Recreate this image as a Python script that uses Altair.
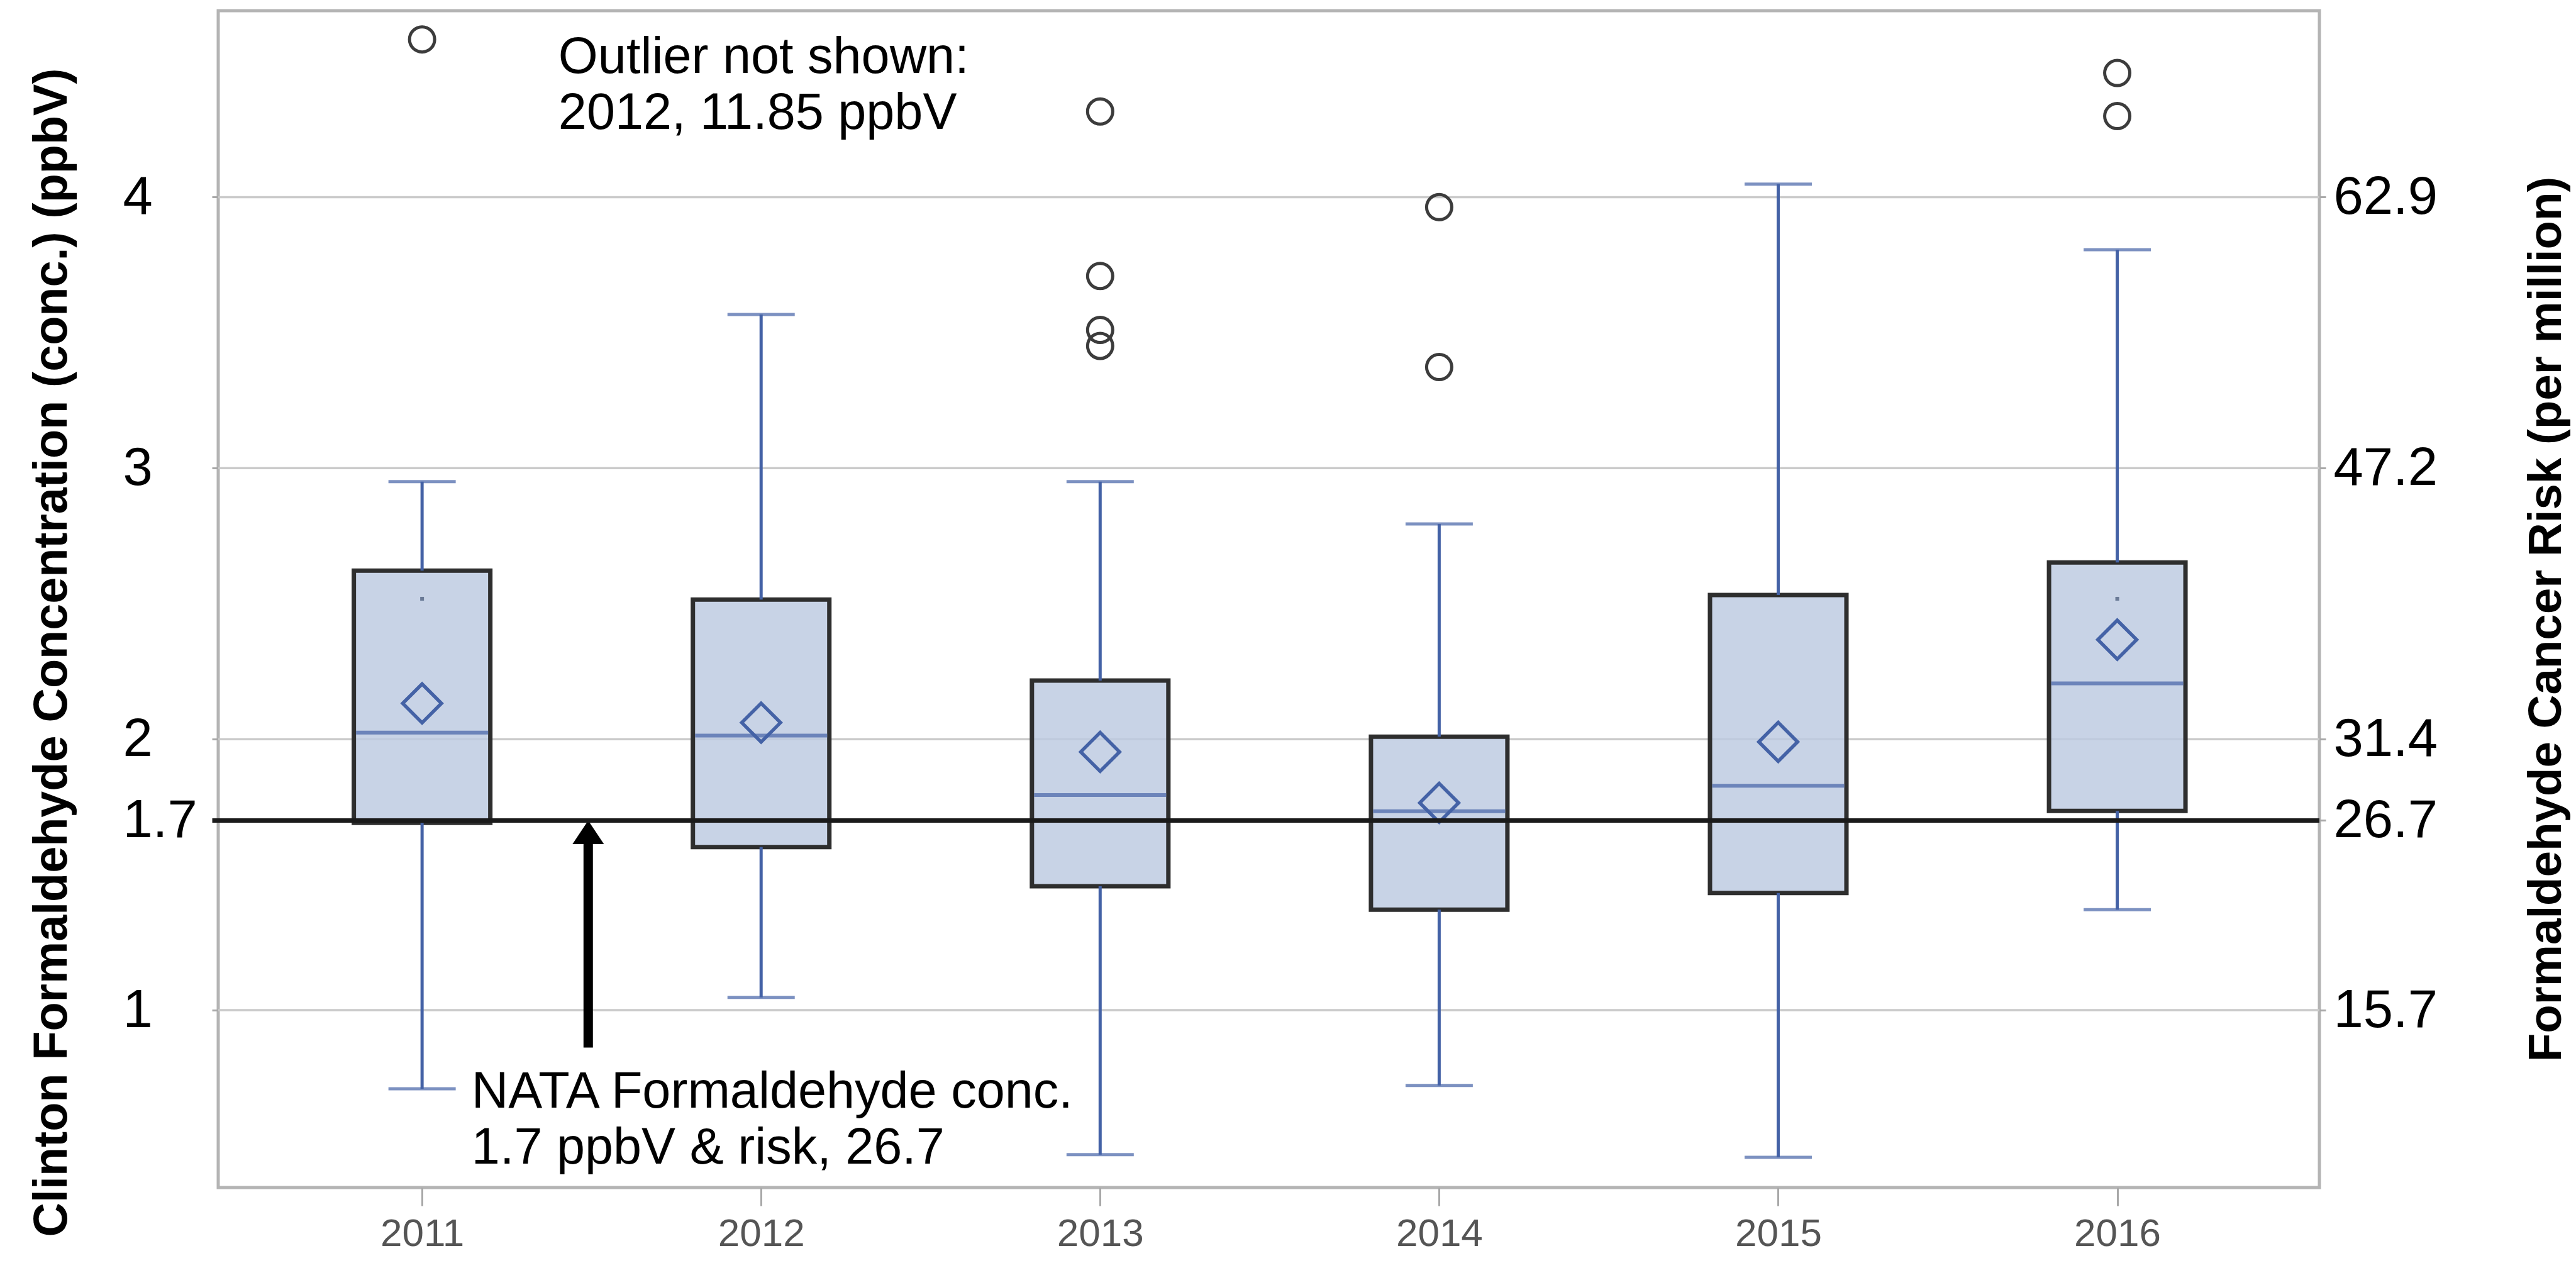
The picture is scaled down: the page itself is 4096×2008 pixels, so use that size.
import altair as alt
import pandas as pd

# ---------------- data ----------------
years = [2011, 2012, 2013, 2014, 2015, 2016]
whisker_low = [0.710, 1.047, 0.467, 0.722, 0.457, 1.371]
q1 = [1.691, 1.602, 1.457, 1.371, 1.432, 1.735]
median = [2.024, 2.013, 1.794, 1.734, 1.828, 2.206]
mean = [2.132, 2.061, 1.953, 1.765, 1.990, 2.367]
q3 = [2.622, 2.515, 2.216, 2.009, 2.532, 2.652]
whisker_high = [2.950, 3.567, 2.950, 2.794, 4.048, 3.806]

outlier_years = [2011, 2013, 2013, 2013, 2013, 2014, 2014, 2016, 2016]
outlier_values = [4.582, 4.316, 3.709, 3.510, 3.451, 3.963, 3.373, 4.458, 4.299]

dot_years = [2011, 2016]
dot_values = [2.518, 2.518]

conc_ticks = [1, 1.7, 2, 3, 4]
conc_labels = ["1", "1.7", "2", "3", "4"]
grid_values = [1, 2, 3, 4]
risk_labels = ["15.7", "26.7", "31.4", "47.2", "62.9"]

nata_conc = [1.7]
arrow_year = [2011.49]
arrow_tail = [0.862]
arrow_base = [1.614]

annot_text = ["Outlier not shown:\n2012, 11.85 ppbV",
              "NATA Formaldehyde conc.\n1.7 ppbV & risk, 26.7"]
annot_year = [2011.402, 2011.146]
annot_conc = [4.458, 0.640]

y_domain = [0.3455, 4.688]
x_domain = [2010.408, 2016.587]

# ---------------- tables ----------------
box_df = pd.DataFrame({"year": years, "lo": whisker_low, "q1": q1, "med": median,
                       "mean": mean, "q3": q3, "hi": whisker_high})
out_df = pd.DataFrame({"year": outlier_years, "v": outlier_values})
dot_df = pd.DataFrame({"year": dot_years, "v": dot_values})
grid_df = pd.DataFrame({"v": grid_values})
ref_df = pd.DataFrame({"v": nata_conc})
arrow_df = pd.DataFrame({"year": arrow_year, "tail": arrow_tail, "base": arrow_base,
                         "tip": nata_conc})
annot_df = pd.DataFrame({"year": annot_year, "v": annot_conc, "t": annot_text})

BLUE = "#4462A6"
FONT = "Liberation Sans"


def label_map(values, labels):
    return " : ".join(
        f"datum.value === {v} ? '{lab}'" for v, lab in zip(values, labels)
    ) + " : ''"


x_axis = alt.Axis(values=years, format="d", grid=False, domain=False, title=None,
                  labelFont=FONT, labelFontSize=62, labelColor="#555555",
                  tickColor="#a8a8a8", tickWidth=3, tickSize=29, labelPadding=14,
                  labelOverlap=False, labelBaseline="top")
x_scale = alt.Scale(domain=x_domain, nice=False, zero=False)
y_scale = alt.Scale(domain=y_domain, nice=False, zero=False)

left_axis = alt.Axis(values=conc_ticks, grid=False, domain=False,
                     title="Clinton Formaldehyde Concentration (conc.) (ppbV)",
                     labelExpr=label_map(conc_ticks, conc_labels),
                     labelFont=FONT, labelFontSize=85, labelColor="black",
                     labelAlign="left", labelPadding=142, tickSize=10,
                     labelOverlap=False,
                     tickColor={"condition": {"test": "datum.value === 1.7", "value": "#1a1a1a"},
                                "value": "#a8a8a8"},
                     tickWidth={"condition": {"test": "datum.value === 1.7", "value": 7},
                                "value": 3},
                     titleFont=FONT, titleFontWeight="bold", titleFontSize=75.5,
                     titleColor="black", titleAngle=270, titleAlign="center",
                     titleBaseline="alphabetic", titleX=-242, titleY=1020)

right_axis = alt.Axis(values=conc_ticks, grid=False, domain=False, orient="right",
                      title="Formaldehyde Cancer Risk (per million)",
                      labelExpr=label_map(conc_ticks, risk_labels),
                      labelFont=FONT, labelFontSize=85, labelColor="black",
                      labelAlign="left", labelPadding=12, tickSize=10,
                      labelOverlap=False, tickColor="#a8a8a8", tickWidth=3,
                      titleFont=FONT, titleFontWeight="bold", titleFontSize=74.5,
                      titleColor="black", titleAngle=270, titleAlign="center",
                      titleBaseline="alphabetic", titleX=383, titleY=967)


def X(field="year"):
    return alt.X(f"{field}:Q", scale=x_scale, axis=x_axis)


def Y(field):
    return alt.Y(f"{field}:Q", scale=y_scale, axis=left_axis)


grid = alt.Chart(grid_df).mark_rule(color="#cacaca", strokeWidth=3.5).encode(y=Y("v"))

boxes = alt.Chart(box_df).mark_bar(size=217, fill="#BCC9E0", fillOpacity=0.82,
                                   stroke="#2e2e2e", strokeWidth=7).encode(
    x=X(), y=Y("q1"), y2="q3")

whisk_lo = alt.Chart(box_df).mark_rule(color=BLUE, strokeWidth=5).encode(
    x=X(), y=Y("lo"), y2="q1")
whisk_hi = alt.Chart(box_df).mark_rule(color=BLUE, strokeWidth=5).encode(
    x=X(), y=Y("q3"), y2="hi")

cap_lo = alt.Chart(box_df).mark_tick(orient="horizontal", size=107, thickness=5,
                                     color=BLUE).encode(x=X(), y=Y("lo"))
cap_hi = alt.Chart(box_df).mark_tick(orient="horizontal", size=107, thickness=5,
                                     color=BLUE).encode(x=X(), y=Y("hi"))

medians = alt.Chart(box_df).mark_tick(orient="horizontal", size=210, thickness=6,
                                      color=BLUE).encode(x=X(), y=Y("med"))

means = alt.Chart(box_df).mark_point(shape="diamond", filled=False, size=3800,
                                     strokeWidth=5.5, color=BLUE, opacity=1).encode(
    x=X(), y=Y("mean"))

dots = alt.Chart(dot_df).mark_point(shape="square", filled=True, size=36,
                                    color="#6a7a96", opacity=1).encode(x=X(), y=Y("v"))

outliers = alt.Chart(out_df).mark_point(shape="circle", filled=False, size=1600,
                                        strokeWidth=5, color="#3c3c3c", opacity=1).encode(
    x=X(), y=Y("v"))

arrow_shaft = alt.Chart(arrow_df).mark_rule(color="black", strokeWidth=15,
                                            strokeCap="butt").encode(
    x=X(), y=Y("tail"), y2="base")
arrow_head = alt.Chart(arrow_df).mark_point(shape="M0,0L1,1.5L-1,1.5Z", filled=True,
                                            size=2500, color="black", opacity=1,
                                            strokeWidth=0).encode(x=X(), y=Y("tip"))

annots = alt.Chart(annot_df).mark_text(align="left", baseline="alphabetic", font=FONT,
                                       fontSize=81, color="black", lineBreak="\n",
                                       lineHeight=89).encode(
    x=X(), y=Y("v"), text="t:N")

inner = alt.layer(grid, boxes, whisk_lo, whisk_hi, cap_lo, cap_hi, medians, means,
                  dots, outliers, arrow_shaft, arrow_head, annots)

ref_line = alt.Chart(ref_df).mark_rule(color="#1a1a1a", strokeWidth=7).encode(
    y=alt.Y("v:Q", scale=y_scale, axis=right_axis))

chart = alt.layer(inner, ref_line).resolve_scale(y="independent").properties(
    width=3341, height=1871,
    autosize=alt.AutoSizeParams(type="none"),
    padding={"left": 339, "top": 9, "right": 400, "bottom": 112},
    background="white",
).configure_view(stroke="#b4b4b4", strokeWidth=5)

chart.save("out.html", embed_options={"renderer": "svg", "actions": False})
